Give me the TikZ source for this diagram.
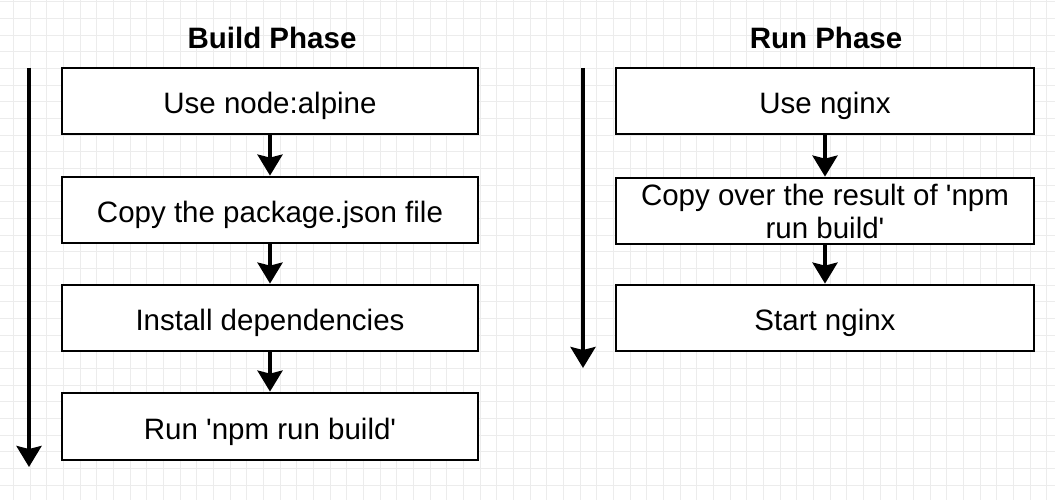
\documentclass[tikz,border=0pt]{standalone}
\usepackage{fontspec}
\setmainfont{Liberation Sans}[Ligatures=TeXOff]
\usetikzlibrary{arrows.meta}
\definecolor{gridgray}{HTML}{ECECEC}
\begin{document}
\begin{tikzpicture}[x=1pt,y=-1pt,
  box/.style={draw=black, line width=2.8pt, fill=white, minimum width=416pt,
    minimum height=66pt, inner sep=0pt, align=center,
    font=\fontsize{29.5}{33}\selectfont},
  oneline/.style={text height=25pt, text depth=0pt},
  flow/.style={line width=3.6pt, -{Stealth[width=25pt,length=21pt,inset=3pt]}},
  phasetitle/.style={font=\fontsize{29.5}{33}\selectfont\bfseries},
  gridline/.style={draw=gridgray, line width=0.9pt}]
\useasboundingbox (0,0) rectangle (1055,500);
\fill[white] (0,0) rectangle (1055,500);
\foreach \i in {0,...,63} {\draw[gridline] (13.33+16.667*\i,0) -- (13.33+16.667*\i,500);}
\foreach \j in {0,...,30} {\draw[gridline] (0,1.67+16.667*\j) -- (1055,1.67+16.667*\j);}

% titles
\node[phasetitle] (t1) at (272,38) {Build Phase};
\node[phasetitle] (t2) at (826,38) {Run Phase};

% build phase
\node[box, oneline] (b1) at (270,101) {Use node:alpine};
\node[box, oneline] (b2) at (270,210) {Copy the package.json file};
\node[box, oneline] (b3) at (270,318) {Install dependencies};
\node[box, oneline, minimum height=67pt] (b4) at (270,426.5) {Run 'npm run build'};
\draw[flow] (b1.south) -- (b2.north);
\draw[flow] (b2.south) -- (b3.north);
\draw[flow] (b3.south) -- (b4.north);
\coordinate (l1) at (29,68);
\coordinate (l2) at (29,467);
\draw[flow] (l1) -- (l2);

% run phase
\node[box, oneline, minimum width=418pt] (r1) at (825,101) {Use nginx};
\node[box, minimum width=418pt] (r2) at (825,211) {Copy over the result of 'npm\\run build'};
\node[box, oneline, minimum width=418pt] (r3) at (825,318) {Start nginx};
\draw[flow] (r1.south) -- (r2.north);
\draw[flow] (r2.south) -- (r3.north);
\coordinate (m1) at (583,68);
\coordinate (m2) at (583,368);
\draw[flow] (m1) -- (m2);
\end{tikzpicture}
\end{document}
